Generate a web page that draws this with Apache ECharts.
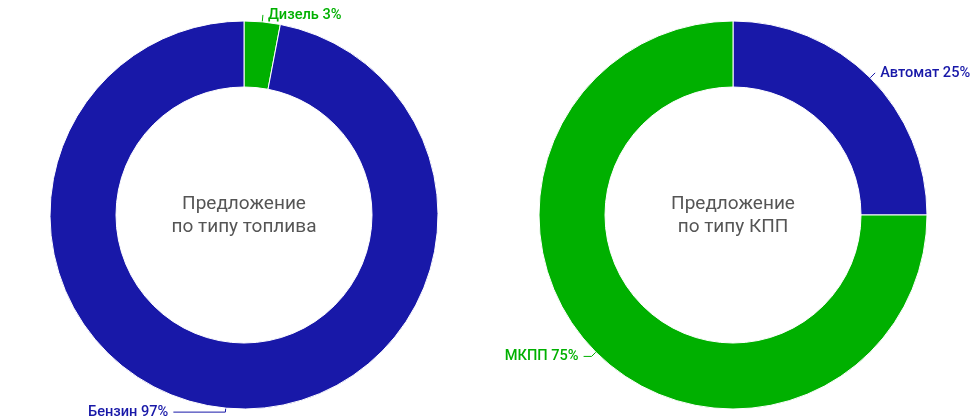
<!DOCTYPE html>
<html><head><meta charset="utf-8">
<script src="https://cdn.jsdelivr.net/npm/echarts@6/dist/echarts.min.js"></script>
<style>html,body{margin:0;padding:0;background:#fff}#c{width:980px;height:420px}</style>
</head><body><div id="c"></div>
<script>
const fuelNames = ['Дизель', 'Бензин'];
const fuelValues = [3, 97];
const gearNames = ['Автомат', 'МКПП'];
const gearValues = [25, 75];
const fuelColors = ['#00b000', '#1818a8'];
const gearColors = ['#1818a8', '#00b000'];
const centerTexts = ['Предложение\nпо типу топлива', 'Предложение\nпо типу КПП'];

function pieSeries(names, values, colors, cx, lines) {
  return {
    type: 'pie',
    center: [cx, 215],
    radius: [128, 194],
    startAngle: 90,
    clockwise: true,
    avoidLabelOverlap: false,
    itemStyle: { borderColor: '#fff', borderWidth: 1 },
    label: {
      formatter: '{b} {c}%',
      fontFamily: 'Roboto',
      fontSize: 14.6,
      fontWeight: 500,
      color: 'inherit'
    },
    labelLine: { length: 8, length2: 8, lineStyle: { width: 1 } },
    emphasis: { disabled: true },
    data: names.map((n, i) => ({
      name: n, value: values[i],
      itemStyle: { color: colors[i] },
      label: { color: colors[i] },
      labelLine: lines[i]
    }))
  };
}

const chart = echarts.init(document.getElementById('c'));
chart.setOption({
  animation: false,
  graphic: [
    { type: 'text', x: 244, y: 193, style: { text: centerTexts[0], textAlign: 'center', fill: '#555', font: '19px Roboto', lineHeight: 23 } },
    { type: 'text', x: 733, y: 193, style: { text: centerTexts[1], textAlign: 'center', fill: '#555', font: '19px Roboto', lineHeight: 23 } }
  ],
  series: [
    pieSeries(fuelNames, fuelValues, fuelColors, 244, [{ length: 7, length2: 0 }, { length: 4, length2: 52 }]),
    pieSeries(gearNames, gearValues, gearColors, 733, [{ length: 7, length2: 0 }, { length: 6, length2: 8 }])
  ]
});
</script></body></html>
